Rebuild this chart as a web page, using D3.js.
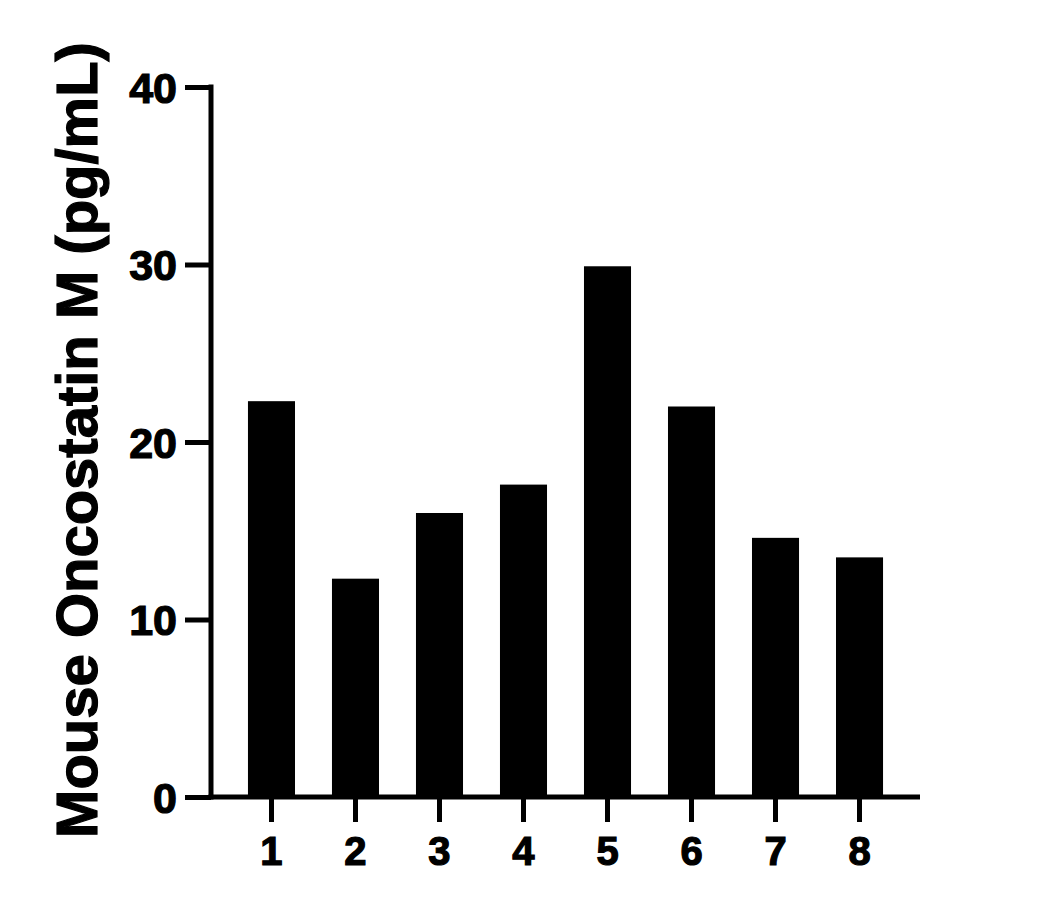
<!DOCTYPE html>
<html>
<head>
<meta charset="utf-8">
<script src="https://cdn.jsdelivr.net/npm/d3@7.9.0/dist/d3.min.js"></script>
<style>
  html, body { margin: 0; padding: 0; background: #fff; }
  svg text { font-family: "Liberation Sans", Arial, sans-serif; font-weight: bold; fill: #000; stroke: #000; stroke-width: 1.2px; }
</style>
</head>
<body>
<svg width="1053" height="914"></svg>
<script>
// chart data
const groups = ['1', '2', '3', '4', '5', '6', '7', '8'];
const values = [22.3, 12.3, 16.0, 17.6, 29.9, 22.0, 14.6, 13.5];
const yTicks = [0, 10, 20, 30, 40];
const yLabel = 'Mouse Oncostatin M (pg/mL)';

const svg = d3.select('svg');

// plot area in pixels
const plotLeft = 211, plotRight = 920, plotTop = 87, plotBottom = 797;

let x = d3.scaleBand().domain(groups).range([plotLeft, plotRight]).padding(0.44);
let y = d3.scaleLinear().domain([0, 40]).range([plotBottom, plotTop]);

// bars
svg.append('g')
  .selectAll('rect')
  .data(values)
  .join('rect')
  .attr('x', (d, i) => x(groups[i]))
  .attr('width', x.bandwidth())
  .attr('y', d => y(d))
  .attr('height', d => y(0) - y(d))
  .attr('fill', '#000');

// y axis
let yAxis = svg.append('g')
  .attr('transform', `translate(${plotLeft},0)`)
  .call(d3.axisLeft(y).tickValues(yTicks).tickSize(26).tickPadding(8).tickSizeOuter(0));
yAxis.select('.domain').attr('stroke-width', 5).attr('d', `M0,${plotTop - 2.5}V${plotBottom + 2.5}`);
yAxis.selectAll('.tick line').attr('stroke-width', 5);
yAxis.selectAll('.tick text').attr('font-size', 43).attr('dy', '0.36em');

// x axis
let xAxis = svg.append('g')
  .attr('transform', `translate(0,${plotBottom})`)
  .call(d3.axisBottom(x).tickSize(25).tickPadding(15).tickSizeOuter(0));
xAxis.select('.domain').attr('stroke-width', 5).attr('d', `M${plotLeft - 2.5},0H${plotRight}`);
xAxis.selectAll('.tick line').attr('stroke-width', 5);
xAxis.selectAll('.tick text').attr('font-size', 40);

svg.selectAll('.domain, .tick line').attr('stroke', '#000');
svg.selectAll('.tick text').attr('font-family', null).style('font-weight', 'bold');

// y axis title
svg.append('text')
  .attr('transform', `translate(97,${(42 + 838) / 2}) rotate(-90)`)
  .attr('text-anchor', 'middle')
  .attr('font-size', 58)
  .text(yLabel);
</script>
</body>
</html>
